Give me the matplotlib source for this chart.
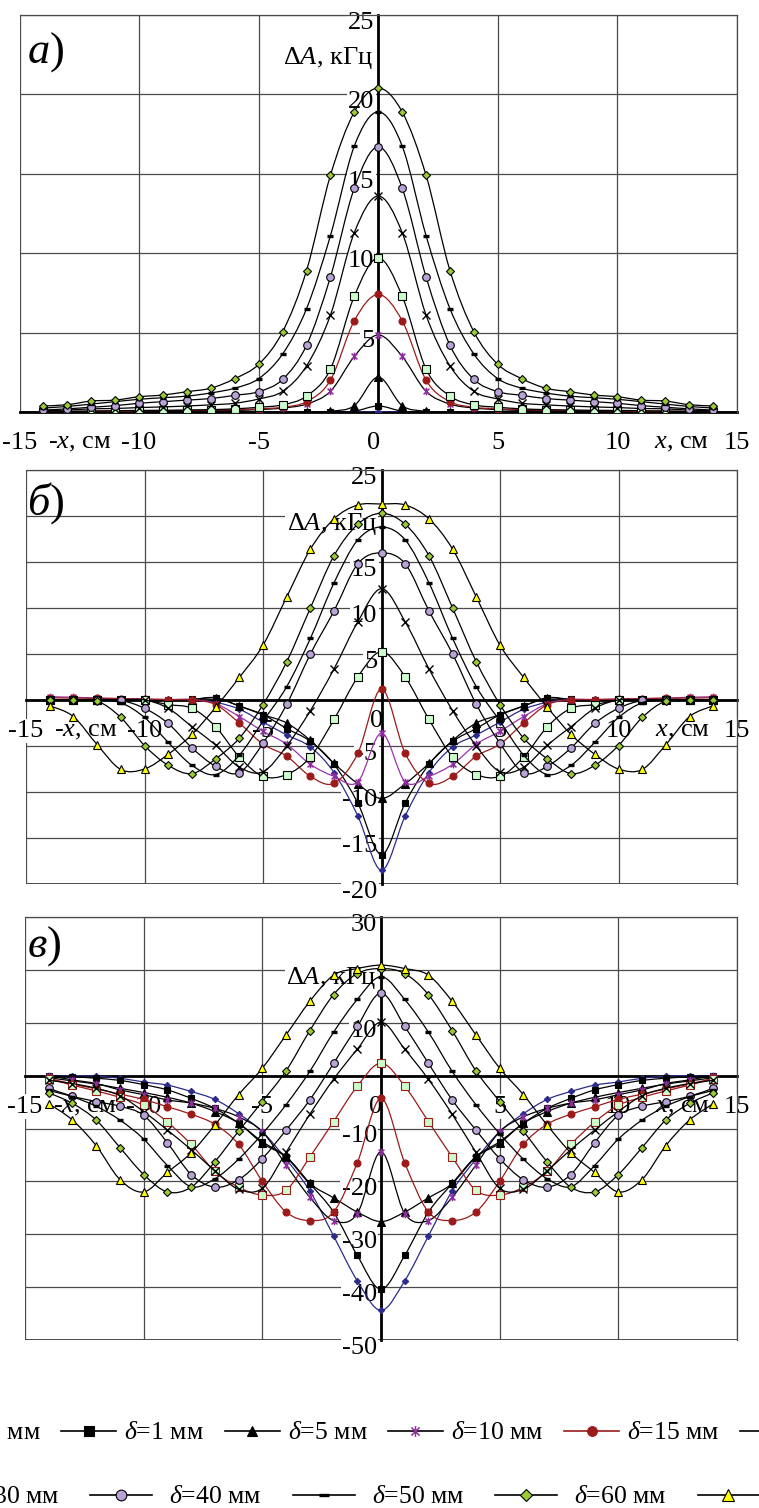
import numpy as np
import matplotlib
matplotlib.use('Agg')
import matplotlib.pyplot as plt
from matplotlib.path import Path
from matplotlib.patches import PathPatch
from matplotlib.lines import Line2D

plt.rcParams['font.family'] = ['Liberation Serif', 'DejaVu Serif']
plt.rcParams['mathtext.fontset'] = 'custom'
plt.rcParams['mathtext.rm'] = 'Liberation Serif'
plt.rcParams['mathtext.it'] = 'Liberation Serif:italic'

###############################################
### Данные: x от -14 до 14 см, ΔA в кГц

x = list(range(-14, 15))
deltas = [0, 1, 5, 10, 15, 20, 30, 40, 50, 60, 70]

# а) ---------------------------------------------------------------
a_d0 = [0, 0, 0, 0, 0, 0, 0, 0, 0, 0, 0, 0, 0, 0, 0, 0, 0, 0, 0, 0, 0, 0, 0, 0, 0, 0, 0, 0, 0]
a_d1 = [0, 0, 0, 0, 0, 0, 0, 0, 0, 0, 0, 0, 0, 0.05, 0.38, 0.05, 0, 0, 0, 0, 0, 0, 0, 0, 0, 0, 0, 0, 0]
a_d5 = [0, 0, 0, 0, 0, 0, 0, 0, 0, 0, 0, 0, 0.05, 0.4, 2.2, 0.4, 0.05, 0, 0, 0, 0, 0, 0, 0, 0, 0, 0, 0, 0]
a_d10 = [0.0, 0.03, 0.05, 0.05, 0.05, 0.08, 0.1, 0.1, 0.1, 0.15, 0.25, 0.5, 1.3, 3.5, 4.85,
         3.5, 1.3, 0.5, 0.25, 0.15, 0.1, 0.1, 0.1, 0.08, 0.05, 0.05, 0.05, 0.03, 0.0]
a_d15 = [0.02, 0.03, 0.05, 0.05, 0.08, 0.1, 0.1, 0.12, 0.15, 0.2, 0.3, 0.65, 2.0, 5.75, 7.4,
         5.75, 2.0, 0.65, 0.3, 0.2, 0.15, 0.12, 0.1, 0.1, 0.08, 0.05, 0.05, 0.03, 0.02]
a_d20 = [0.0, 0.03, 0.05, 0.08, 0.1, 0.1, 0.12, 0.15, 0.2, 0.3, 0.45, 1.0, 2.7, 7.3, 9.7,
         7.3, 2.7, 1.0, 0.45, 0.3, 0.2, 0.15, 0.12, 0.1, 0.1, 0.08, 0.05, 0.03, 0.0]
a_d30 = [0.08, 0.12, 0.2, 0.22, 0.28, 0.32, 0.38, 0.45, 0.55, 0.82, 1.3, 2.9, 6.1, 11.3, 13.6,
         11.3, 6.1, 2.9, 1.3, 0.82, 0.55, 0.45, 0.38, 0.32, 0.28, 0.22, 0.2, 0.12, 0.08]
a_d40 = [0.12, 0.2, 0.3, 0.4, 0.55, 0.65, 0.75, 0.85, 1.05, 1.28, 2.05, 4.2, 8.5, 14.1, 16.7,
         14.1, 8.5, 4.2, 2.05, 1.28, 1.05, 0.85, 0.75, 0.65, 0.55, 0.4, 0.3, 0.2, 0.12]
a_d50 = [0.25, 0.35, 0.5, 0.65, 0.8, 0.9, 1.0, 1.2, 1.5, 2.1, 3.65, 6.5, 11.1, 16.75, 18.9,
         16.75, 11.1, 6.5, 3.65, 2.1, 1.5, 1.2, 1.0, 0.9, 0.8, 0.65, 0.5, 0.35, 0.25]
a_d60 = [0.38, 0.46, 0.69, 0.75, 0.96, 1.07, 1.28, 1.5, 2.1, 3.0, 5.05, 8.9, 14.9, 18.9, 20.4,
         18.9, 14.9, 8.9, 5.05, 3.0, 2.1, 1.5, 1.28, 1.07, 0.96, 0.75, 0.69, 0.46, 0.38]

# б) ---------------------------------------------------------------
b_d0 = [0, 0, 0, 0, 0, 0, 0, -0.25, -1.0, -2.4, -3.8, -5.1, -7.9, -12.6, -18.5,
        -12.6, -7.9, -5.1, -3.8, -2.4, -1.0, -0.25, 0, 0, 0, 0, 0, 0, 0]
b_d1 = [0, 0, 0, 0, 0, 0, 0.07, 0.25, -0.65, -1.6, -3.1, -4.5, -7.0, -11.2, -16.8,
        -11.2, -7.0, -4.5, -3.1, -1.6, -0.65, 0.25, 0.07, 0, 0, 0, 0, 0, 0]
b_d5 = [0, 0, 0, 0, 0, 0, 0.05, 0.2, -0.65, -1.6, -2.5, -4.4, -6.9, -9.1, -10.7,
        -9.1, -6.9, -4.4, -2.5, -1.6, -0.65, 0.2, 0.05, 0, 0, 0, 0, 0, 0]
b_d10 = [0.35, 0.3, 0.2, 0.15, 0.1, 0.05, 0.05, -0.4, -1.8, -3.4, -4.8, -7.0, -8.3, -8.9, -3.6,
         -8.9, -8.3, -7.0, -4.8, -3.4, -1.8, -0.4, 0.05, 0.05, 0.1, 0.15, 0.2, 0.3, 0.35]
b_d15 = [0.25, 0.2, 0.2, 0.15, 0.1, 0.05, 0.0, -0.5, -2.5, -4.8, -6.1, -8.3, -9.05, -5.8, 1.2,
         -5.8, -9.05, -8.3, -6.1, -4.8, -2.5, -0.5, 0.0, 0.05, 0.1, 0.15, 0.2, 0.2, 0.25]
b_d20 = [0, 0, 0, 0, 0, -0.5, -0.9, -2.9, -6.2, -8.3, -8.1, -6.2, -2.1, 2.5, 5.25,
         2.5, -2.1, -6.2, -8.1, -8.3, -6.2, -2.9, -0.9, -0.5, 0, 0, 0, 0, 0]
b_d30 = [0, 0, 0, 0, 0, -0.9, -2.9, -4.9, -7.3, -7.8, -5.0, -1.15, 3.4, 8.5, 12.1,
         8.5, 3.4, -1.15, -5.0, -7.8, -7.3, -4.9, -2.9, -0.9, 0, 0, 0, 0, 0]
b_d40 = [0, 0, 0, -0.05, -0.9, -2.55, -5.2, -7.2, -7.9, -4.7, -0.47, 5.0, 9.7, 14.8, 16.0,
         14.8, 9.7, 5.0, -0.47, -4.7, -7.9, -7.2, -5.2, -2.55, -0.9, -0.05, 0, 0, 0]
b_d50 = [0, 0, 0, -0.3, -1.9, -4.6, -7.1, -8.1, -6.0, -2.3, 1.45, 6.7, 12.75, 17.4, 18.8,
         17.4, 12.75, 6.7, 1.45, -2.3, -6.0, -8.1, -7.1, -4.6, -1.9, -0.3, 0, 0, 0]
b_d60 = [0, 0, -0.1, -1.9, -4.95, -7.1, -8.0, -6.4, -4.15, -0.5, 4.15, 10.0, 15.7, 19.1, 20.3,
         19.1, 15.7, 10.0, 4.15, -0.5, -4.15, -6.4, -8.0, -7.1, -4.95, -1.9, -0.1, 0, 0]
b_d70 = [-0.62, -1.8, -4.85, -7.55, -7.5, -5.9, -3.75, -0.8, 2.45, 5.95, 11.2, 16.4, 19.7, 21.2, 21.3,
         21.2, 19.7, 16.4, 11.2, 5.95, 2.45, -0.8, -3.75, -5.9, -7.5, -7.55, -4.85, -1.8, -0.62]

# в) ---------------------------------------------------------------
c_d0 = [0, 0, -0.1, -0.5, -1.2, -1.8, -3.0, -4.5, -7.2, -10.6, -15.8, -21.8, -30.3, -38.8, -44.4,
        -38.8, -30.3, -21.8, -15.8, -10.6, -7.2, -4.5, -3.0, -1.8, -1.2, -0.5, -0.1, 0, 0]
c_d1 = [0, -0.2, -0.5, -0.9, -1.7, -2.7, -4.3, -6.2, -9.0, -12.5, -15.3, -20.4, -25.8, -34.0, -40.4,
        -34.0, -25.8, -20.4, -15.3, -12.5, -9.0, -6.2, -4.3, -2.7, -1.7, -0.9, -0.5, -0.2, 0]
c_d5 = [-0.4, -1.0, -1.6, -2.4, -3.2, -4.1, -5.2, -6.8, -9.0, -12.8, -15.4, -20.4, -23.1, -25.8, -27.6,
        -25.8, -23.1, -20.4, -15.4, -12.8, -9.0, -6.8, -5.2, -4.1, -3.2, -2.4, -1.6, -1.0, -0.4]
c_d10 = [0.0, -0.8, -1.5, -2.7, -3.6, -4.6, -5.2, -6.2, -7.8, -10.6, -16.9, -23.0, -27.4, -26.1, -14.4,
         -26.1, -27.4, -23.0, -16.9, -10.6, -7.8, -6.2, -5.2, -4.6, -3.6, -2.7, -1.5, -0.8, 0.0]
c_d15 = [-0.5, -1.6, -2.5, -3.5, -4.5, -5.9, -7.3, -9.2, -13.0, -20.0, -25.8, -27.4, -25.8, -16.5, -4.3,
         -16.5, -25.8, -27.4, -25.8, -20.0, -13.0, -9.2, -7.3, -5.9, -4.5, -3.5, -2.5, -1.6, -0.5]
c_d20 = [-0.6, -1.8, -2.9, -4.1, -5.6, -8.8, -13.0, -18.1, -21.1, -22.6, -21.7, -15.4, -8.7, -2.0, 2.35,
         -2.0, -8.7, -15.4, -21.7, -22.6, -21.1, -18.1, -13.0, -8.8, -5.6, -4.1, -2.9, -1.8, -0.6]
c_d30 = [-0.9, -1.5, -2.4, -3.8, -6.8, -10.3, -14.0, -18.0, -21.5, -21.3, -14.5, -7.3, -0.7, 5.0, 10.1,
         5.0, -0.7, -7.3, -14.5, -21.3, -21.5, -18.0, -14.0, -10.3, -6.8, -3.8, -2.4, -1.5, -0.9]
c_d40 = [-2.4, -3.9, -4.9, -5.8, -7.5, -12.7, -18.7, -21.1, -19.7, -15.7, -10.3, -4.6, 2.3, 9.3, 15.6,
         9.3, 2.3, -4.6, -10.3, -15.7, -19.7, -21.1, -18.7, -12.7, -7.5, -5.8, -4.9, -3.9, -2.4]
c_d50 = [-2.8, -4.0, -5.8, -8.4, -12.0, -17.0, -21.0, -19.5, -15.8, -11.0, -5.5, 0.8, 8.2, 14.4, 18.7,
         14.4, 8.2, 0.8, -5.5, -11.0, -15.8, -19.5, -21.0, -17.0, -12.0, -8.4, -5.8, -4.0, -2.8]
c_d60 = [-3.25, -5.25, -8.4, -13.6, -18.7, -22.0, -21.1, -16.3, -10.5, -4.9, 0.9, 8.5, 15.3, 19.3, 20.25,
         19.3, 15.3, 8.5, 0.9, -4.9, -10.5, -16.3, -21.1, -22.0, -18.7, -13.6, -8.4, -5.25, -3.25]
c_d70 = [-5.3, -8.4, -13.25, -19.65, -22.0, -18.3, -14.6, -9.35, -3.6, 1.4, 7.7, 14.05, 19.0, 20.25, 20.9,
         20.25, 19.0, 14.05, 7.7, 1.4, -3.6, -9.35, -14.6, -18.3, -22.0, -19.65, -13.25, -8.4, -5.3]

panel_a = {0: a_d0, 1: a_d1, 5: a_d5, 10: a_d10, 15: a_d15, 20: a_d20,
           30: a_d30, 40: a_d40, 50: a_d50, 60: a_d60}
panel_b = {0: b_d0, 1: b_d1, 5: b_d5, 10: b_d10, 15: b_d15, 20: b_d20,
           30: b_d30, 40: b_d40, 50: b_d50, 60: b_d60, 70: b_d70}
panel_c = {0: c_d0, 1: c_d1, 5: c_d5, 10: c_d10, 15: c_d15, 20: c_d20,
           30: c_d30, 40: c_d40, 50: c_d50, 60: c_d60, 70: c_d70}

xtick_vals = [-15, -10, -5, 5, 10, 15]
xtick_text = ['-15', '-10', '-5', '5', '10', '15']

###############################################
### Стили серий

STAR = Path([(-1, -1), (1, 1), (-1, 1), (1, -1), (0, -1.3), (0, 1.3)],
            [Path.MOVETO, Path.LINETO] * 3)
NAVY = '#2b2b8c'
DARKRED = '#9b1b1b'

styles = {
    0: dict(marker='D', mfc=NAVY, mec=NAVY, ms=3.2, mew=0.8, color=NAVY),
    1: dict(marker='s', mfc='black', mec='black', ms=5, mew=0.8, color='black'),
    5: dict(marker='^', mfc='black', mec='black', ms=5.5, mew=0.8, color='black'),
    10: dict(marker=STAR, mfc='none', mec='#8e2e9e', ms=5.5, mew=1.1, color='black'),
    15: dict(marker='o', mfc=DARKRED, mec=DARKRED, ms=5, mew=0.8, color=DARKRED),
    20: dict(marker='s', mfc='#ccffcc', mec='black', ms=5.5, mew=0.8, color='black'),
    30: dict(marker='x', mfc='black', mec='black', ms=5.5, mew=1.0, color='black'),
    40: dict(marker='o', mfc='#b9a2d6', mec='black', ms=5.5, mew=0.8, color='black'),
    50: dict(marker='_', mfc='black', mec='black', ms=5, mew=2.4, color='black'),
    60: dict(marker='D', mfc='#99cc33', mec='black', ms=4.5, mew=0.8, color='black'),
    70: dict(marker='^', mfc='#ffff00', mec='black', ms=6, mew=0.8, color='black'),
}


def smooth_path(xs, ys):
    # сглаженная линия: кубические кривые Безье через точки серии
    p = np.column_stack([xs, ys]).astype(float)
    n = len(p)
    verts = [p[0]]
    codes = [Path.MOVETO]
    for i in range(n - 1):
        p0 = p[max(i - 1, 0)]
        p1 = p[i]
        p2 = p[i + 1]
        p3 = p[min(i + 2, n - 1)]
        verts += [p1 + (p2 - p0) / 6.0, p2 - (p3 - p1) / 6.0, p2]
        codes += [Path.CURVE4] * 3
    return Path(verts, codes)


def put_text(ax, xv, yv, s, dx, dy, ha='center', size=19):
    ax.annotate(s, (xv, yv), xytext=(dx, dy), textcoords='offset pixels',
                ha=ha, va='center', fontsize=size, zorder=1.2,
                annotation_clip=False,
                bbox=dict(boxstyle='square,pad=0.05', fc='white', ec='none'))


def draw_panel(ax, data, ylo, yhi, ystep, ylabels, unit_y, zero_dy, overrides):
    ax.set_xlim(-15, 15)
    ax.set_ylim(ylo, yhi)
    ax.set_xticks([-15, -10, -5, 0, 5, 10, 15])
    ax.set_yticks(np.arange(ylo, yhi + 0.1, ystep))
    ax.set_axisbelow(True)
    ax.grid(True, color='#4a4a4a', lw=0.9)
    ax.tick_params(length=0, labelleft=False, labelbottom=False)

    # оси через ноль
    for side in ['left', 'bottom']:
        ax.spines[side].set_position(('data', 0))
        ax.spines[side].set_linewidth(2.0)
        ax.spines[side].set_color('black')
        ax.spines[side].set_zorder(1.5)
    for side in ['top', 'right']:
        ax.spines[side].set_color('#4a4a4a')
        ax.spines[side].set_linewidth(0.9)
    ax.axvline(-15, color='#4a4a4a', lw=1.4, zorder=0.6)
    ax.axhline(ylo, color='#4a4a4a', lw=1.4, zorder=0.6)

    # кривые
    k = 0
    for d in deltas:
        if d not in data:
            continue
        st = dict(styles[d])
        st.update(overrides.get(d, {}))
        col = st.pop('color')
        ax.add_patch(PathPatch(smooth_path(x, data[d]), fc='none', ec=col,
                               lw=0.9, zorder=2 + k * 0.02))
        ax.plot(x, data[d], ls='none', zorder=2.01 + k * 0.02, **st)
        k += 1

    # подписи осей
    for xv, s in zip(xtick_vals, xtick_text):
        put_text(ax, xv, 0, s, 0, -31)
    put_text(ax, 0, 0, '0', -5, zero_dy)
    put_text(ax, -12.5, 0, r'-$x$, см', 0, -31)
    put_text(ax, 12.7, 0, r'$x$, см', 0, -31)
    for yv in ylabels:
        put_text(ax, 0, yv, str(yv), -4, -8, ha='right')
    put_text(ax, 0, unit_y, r'$\Delta A$, кГц', -5, -8, ha='right')


fig = plt.figure(figsize=(7.59, 15.08), dpi=100)
W, H = 759.0, 1508.0

ax_a = fig.add_axes([19.5 / W, 1 - 412 / H, 717.5 / W, 397 / H])
ax_b = fig.add_axes([26 / W, 1 - 884 / H, 711 / W, 414 / H])
ax_c = fig.add_axes([25 / W, 1 - 1340 / H, 712 / W, 423 / H])

draw_panel(ax_a, panel_a, 0, 25, 5, [5, 10, 15, 20, 25], 22.8, -31, {})
draw_panel(ax_b, panel_b, -20, 25, 5, [-20, -15, -10, -5, 5, 10, 15, 25], 20, -21,
           {10: dict(color='#9933aa')})
draw_panel(ax_c, panel_c, -50, 30, 10, [-50, -40, -30, -20, -10, 10, 30], 20, -31,
           {20: dict(color=DARKRED, mec=DARKRED)})

# буквы панелей
for ypix, letter in [(52, 'а'), (503, 'б'), (946, 'в')]:
    fig.text(27 / W, 1 - ypix / H, r'$\mathit{' + letter + '}$)', fontsize=32,
             ha='left', va='center')

###############################################
### Легенда

def handle(d):
    st = dict(styles[d])
    col = st.pop('color')
    return Line2D([], [], color=col, lw=1.2, **st)

row1 = [0, 1, 5, 10, 15, 20]
row2 = [30, 40, 50, 60, 70]
fig.legend([handle(d) for d in row1], [r'$\delta$=%d мм' % d for d in row1],
           loc='center left', bbox_to_anchor=(-102 / W, 1 - 1433 / H), ncol=6,
           frameon=False, fontsize=18.5, handlelength=2.14, handletextpad=0.31,
           columnspacing=0.8, borderpad=0, borderaxespad=0, markerscale=1.4)
fig.legend([handle(d) for d in row2], [r'$\delta$=%d мм' % d for d in row2],
           loc='center left', bbox_to_anchor=(-112 / W, 1 - 1497 / H), ncol=5,
           frameon=False, fontsize=18.5, handlelength=2.41, handletextpad=0.66,
           columnspacing=1.2, borderpad=0, borderaxespad=0, markerscale=1.4)

fig.savefig('out.png', dpi=100)
